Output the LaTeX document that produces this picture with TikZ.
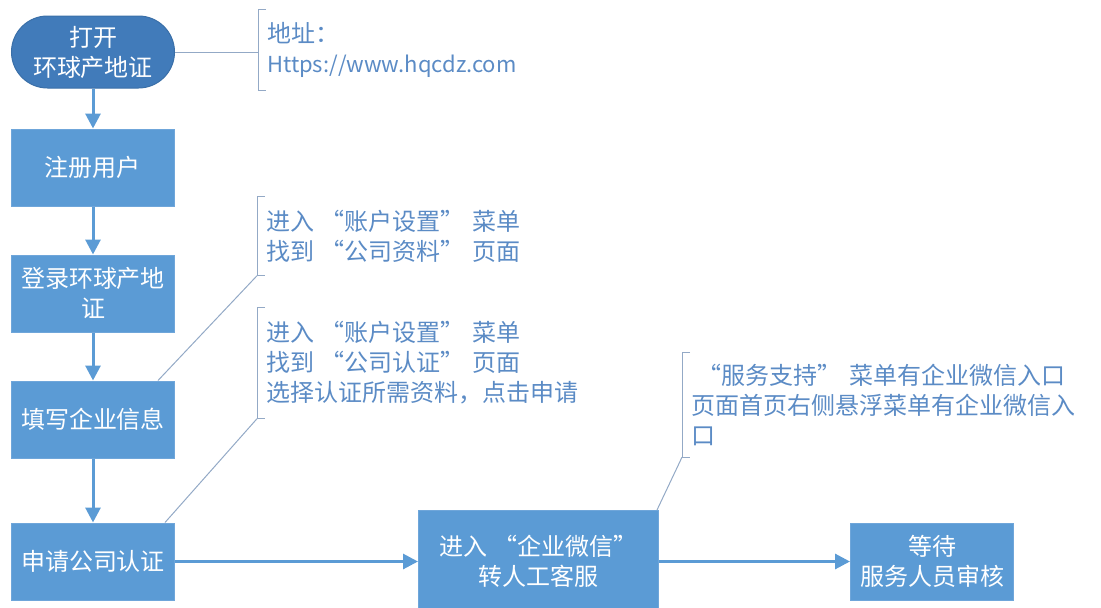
\documentclass[tikz,border=0pt]{standalone}
\usepackage{fontspec}
\setmainfont{Noto Sans CJK SC}
\newcommand{\lquo}{\kern6pt“}
\newcommand{\rquo}{”\kern8pt}
\usetikzlibrary{arrows.meta,positioning}
\definecolor{boxblue}{HTML}{5B9BD5}
\definecolor{boxedge}{HTML}{6FA6DA}
\definecolor{startblue}{HTML}{417BBA}
\definecolor{startedge}{HTML}{3A6FA8}
\definecolor{notecolor}{HTML}{5B8BC5}
\definecolor{linegray}{HTML}{93A9C6}

\begin{document}
\begin{tikzpicture}[x=1pt,y=-1pt,
      font=\fontsize{24pt}{30pt}\selectfont,
      startnode/.style={rectangle,rounded corners=36pt,fill=startblue,draw=startedge,
        line width=1pt,text=white,minimum width=163pt,minimum height=72pt,
        align=center,inner sep=0pt},
      stepbox/.style={rectangle,fill=boxblue,draw=boxedge,line width=1pt,text=white,
        minimum width=163pt,minimum height=77pt,align=center,inner sep=0pt},
      bigbox/.style={stepbox,minimum width=240pt,minimum height=102pt},
      notetext/.style={anchor=west,text=notecolor,align=left,inner xsep=9pt,inner ysep=0pt},
      bracket/.style={draw=linegray,line width=1pt},
      flow/.style={color=boxblue,line width=3pt,-{Triangle[length=15pt,width=15pt]}}]
    \useasboundingbox (0,0) rectangle (1101,608);
    \node[startnode] (start) at (93,52) {打开\\环球产地证};
    \node[stepbox] (reg) [below=40pt of start] {注册用户};
    \node[stepbox] (login) [below=48pt of reg] {登录环球产地\\证};
    \node[stepbox] (fill) [below=48pt of login] {填写企业信息};
    \node[stepbox] (apply) [below=64pt of fill] {申请公司认证};
    \node[bigbox] (wechat) [right=243pt of apply] {进入\lquo 企业微信”\\转人工客服};
    \node[stepbox] (wait) [right=191pt of wechat] {等待\\服务人员审核};

    \node[notetext,minimum height=80pt] (addr) at (258,50) {地址：\\{\fontsize{22pt}{30pt}\selectfont Https://www.hqcdz.com}};
    \node[notetext,minimum height=79pt] (info) at (257,236) {进入\lquo 账户设置\rquo 菜单\\找到\lquo 公司资料\rquo 页面};
    \node[notetext,minimum height=111pt] (cert) at (257,363) {进入\lquo 账户设置\rquo 菜单\\找到\lquo 公司认证\rquo 页面\\选择认证所需资料，点击申请};
    \node[notetext,minimum height=104pt] (entry) at (682,405) {\lquo 服务支持\rquo 菜单有企业微信入口\\页面首页右侧悬浮菜单有企业微信入\\口};

    \draw[bracket] ([xshift=8pt]addr.north west) -- (addr.north west) -- (addr.south west) -- ([xshift=8pt]addr.south west);
    \draw[bracket] ([xshift=8pt]info.north west) -- (info.north west) -- (info.south west) -- ([xshift=8pt]info.south west);
    \draw[bracket] ([xshift=8pt]cert.north west) -- (cert.north west) -- (cert.south west) -- ([xshift=8pt]cert.south west);
    \draw[bracket] ([xshift=8pt]entry.north west) -- (entry.north west) -- (entry.south west) -- ([xshift=8pt]entry.south west);

    \draw[bracket] (start.east) -- (start.east -| addr.west);
    \draw[bracket] ([xshift=-17pt]fill.north east) -- (info.south west);
    \draw[bracket] ([xshift=-10pt]apply.north east) -- (cert.south west);
    \draw[bracket] ([xshift=-2pt]wechat.north east) -- (entry.south west);

    \draw[flow] (start) -- (reg);
    \draw[flow] (reg) -- (login);
    \draw[flow] (login) -- (fill);
    \draw[flow] (fill) -- (apply);
    \draw[flow] (apply) -- (wechat);
    \draw[flow] (wechat) -- (wait);
  \end{tikzpicture}
\end{document}
